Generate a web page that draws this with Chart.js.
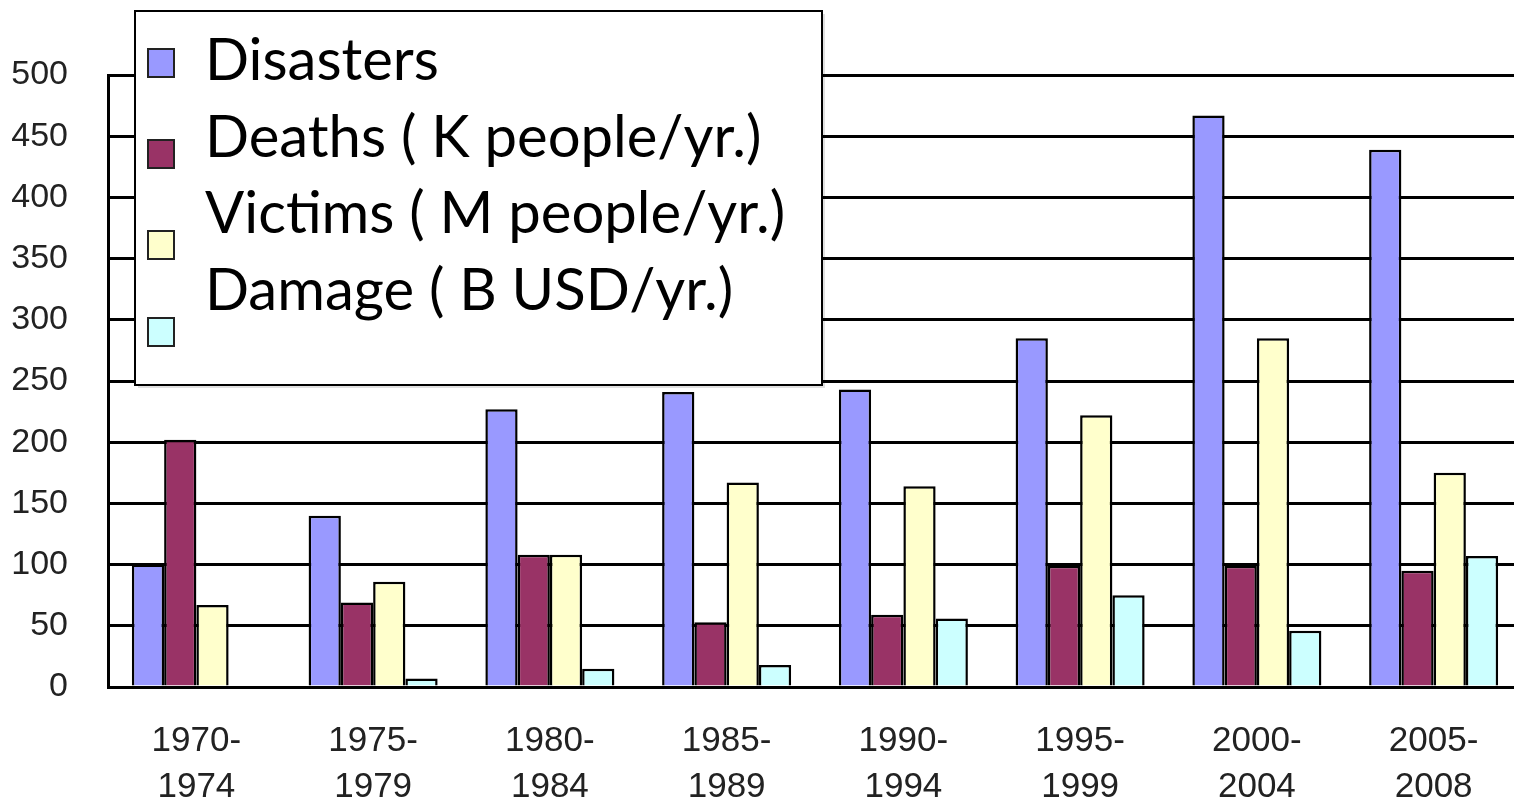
<!DOCTYPE html>
<html>
<head>
<meta charset="utf-8">
<script src="https://cdn.jsdelivr.net/npm/chart.js@4.4.1/dist/chart.umd.min.js"></script>
<style>
  html, body { margin: 0; padding: 0; background: #fff; overflow: hidden; }
  #wrap { position: relative; width: 1522px; height: 808px; }
</style>
</head>
<body>
<div id="wrap"><canvas id="disasterChart"></canvas></div>
<script>
// values
let periods = [
  ["1970-", "1974"], ["1975-", "1979"], ["1980-", "1984"], ["1985-", "1989"],
  ["1990-", "1994"], ["1995-", "1999"], ["2000-", "2004"], ["2005-", "2008"],
];
let disasters = [100, 140, 227, 241, 243, 285, 467, 439];
let deaths = [202, 69, 108, 53, 59, 99, 99, 95];
let victims = [67, 86, 108, 167, 164, 222, 285, 175];
let damage = [0, 7, 15, 18, 56, 75, 46, 107];
let yTicks = [0, 50, 100, 150, 200, 250, 300, 350, 400, 450, 500];

let seriesLabels = [
  "Disasters",
  "Deaths ( K people/yr.)",
  "Victims ( M people/yr.)",
  "Damage ( B USD/yr.)",
];
let seriesColors = ["#9999ff", "#993366", "#ffffcc", "#ccffff"];

function makeSet(i, values) {
  return {
    label: seriesLabels[i],
    data: values,
    backgroundColor: seriesColors[i],
    borderColor: "#000",
    borderWidth: 2.5,
    borderSkipped: "bottom",
    categoryPercentage: 0.73,
    barPercentage: 1.0,
  };
}

// legend box drawn over the plot, like the original
const boxLegend = {
  id: "boxLegend",
  afterDraw(chart) {
    const ctx = chart.ctx;
    ctx.save();
    ctx.fillStyle = "rgba(0,0,0,0.12)";
    ctx.fillRect(138, 14, 687, 374);
    ctx.fillStyle = "#fff";
    ctx.fillRect(135, 11, 687, 374);
    ctx.strokeStyle = "#000";
    ctx.lineWidth = 2;
    ctx.strokeRect(135, 11, 687, 374);

    const swatchY = [49, 140, 231, 318];
    const textY = [80, 157, 233, 310];
    ctx.font = "58px Lato, 'Open Sans', sans-serif";
    ctx.textBaseline = "alphabetic";
    chart.data.datasets.forEach((ds, i) => {
      ctx.fillStyle = ds.backgroundColor;
      ctx.fillRect(148, swatchY[i], 26, 28);
      ctx.strokeStyle = "#222";
      ctx.lineWidth = 2;
      ctx.strokeRect(148, swatchY[i], 26, 28);
      ctx.fillStyle = "#000";
      ctx.fillText(ds.label, 205, textY[i]);
    });
    ctx.restore();
  },
};

let ctx = document.getElementById("disasterChart").getContext("2d");
let myChart = new Chart(ctx, {
  type: "bar",
  data: {
    labels: periods,
    datasets: [
      makeSet(0, disasters),
      makeSet(1, deaths),
      makeSet(2, victims),
      makeSet(3, damage),
    ],
  },
  options: {
    responsive: true,
    maintainAspectRatio: false,
    animation: false,
    layout: { padding: { top: 75, right: 0, left: 0, bottom: 0 } },
    plugins: {
      legend: { display: false },
      tooltip: { enabled: false },
    },
    scales: {
      x: {
        grid: { display: false },
        border: { color: "#000", width: 3 },
        ticks: {
          color: "#222",
          padding: 23,
          maxRotation: 0,
          autoSkip: false,
          font: { family: "'Liberation Sans', sans-serif", size: 35, lineHeight: 1.33 },
        },
        afterFit: (scale) => { scale.height = 121; },
      },
      y: {
        min: 0,
        max: 500,
        afterBuildTicks: (scale) => { scale.ticks = yTicks.map((v) => ({ value: v })); },
        grid: { color: "#000", lineWidth: 3, drawTicks: false },
        border: { color: "#000", width: 3 },
        ticks: {
          color: "#222",
          padding: 40,
          font: { family: "'Liberation Sans', sans-serif", size: 34 },
        },
        afterFit: (scale) => { scale.width = 108; },
      },
    },
  },
  plugins: [boxLegend],
});
</script>
</body>
</html>
